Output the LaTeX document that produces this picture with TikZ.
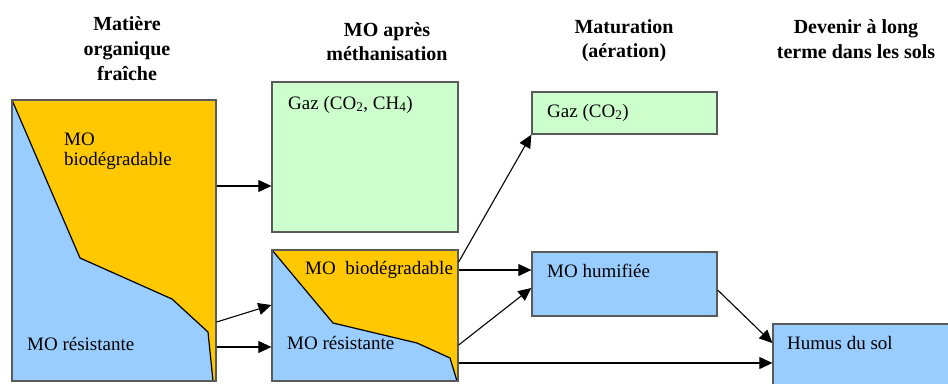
\documentclass[tikz,border=0pt]{standalone}
\usepackage{fontspec}
\setmainfont{Liberation Serif}
\usetikzlibrary{arrows.meta}
\definecolor{yel}{RGB}{255,200,0}
\definecolor{blu}{RGB}{153,204,255}
\definecolor{grn}{RGB}{204,255,204}
\definecolor{edge}{RGB}{90,90,90}
\begin{document}
\begin{tikzpicture}[x=1pt,y=-1pt,
  box/.style={draw=edge, line width=1.3pt, inner sep=0pt},
  arr/.style={line width=1.1pt, -{Triangle[length=13pt,width=12pt]}},
  lab/.style={anchor=base west, inner sep=0pt, font=\fontsize{19}{21}\selectfont},
  head/.style={anchor=base, inner sep=0pt, font=\fontsize{20}{24}\selectfont\bfseries},
  split/.style={line width=1.2pt, line join=round}]
\useasboundingbox (0,0) rectangle (948,383);
% headers
\node[head] (h1a) at (127,30) {Matière};
\node[head] (h1b) at (127,55) {organique};
\node[head] (h1c) at (127,80) {fraîche};
\node[head] (h2a) at (387,36) {MO après};
\node[head] (h2b) at (387,60) {méthanisation};
\node[head] (h3a) at (624,33) {Maturation};
\node[head] (h3b) at (624,57) {(aération)};
\node[head] (h4a) at (856,33) {Devenir à long};
\node[head] (h4b) at (856,58) {terme dans les sols};
% fresh organic matter
\fill[blu] (12,100) rectangle (216,381);
\fill[yel] (12,100) -- (216,100) -- (216,381) -- (213,381) -- (208,332) -- (172,299) -- (80,258) -- cycle;
\draw[split] (12,100) -- (80,258) -- (172,299) -- (208,332) -- (213,381);
\node[box, minimum width=204pt, minimum height=281pt] (fresh) at (114,240.5) {};
\node[lab] (t1) at (64,145) {MO};
\node[lab] (t2) at (64,165) {biodégradable};
\node[lab] (t3) at (27,350) {MO résistante};
% after methanisation
\node[box, fill=grn, minimum width=186pt, minimum height=150pt] (gaz1) at (365,157) {};
\node[lab] (t4) at (288,109) {Gaz (CO\textsubscript{2}, CH\textsubscript{4})};
\fill[blu] (272,250) rectangle (458,381);
\fill[yel] (272,250) -- (458,250) -- (458,381) -- (457,381) -- (450,358) -- (417,343) -- (333,323) -- cycle;
\draw[split] (272,250) -- (333,323) -- (417,343) -- (450,358) -- (457,381);
\node[box, minimum width=186pt, minimum height=131pt] (mid) at (365,315.5) {};
\node[lab] (t5) at (305,274) {MO\ \ biodégradable};
\node[lab] (t6) at (287,349) {MO résistante};
% maturation
\node[box, fill=grn, minimum width=185pt, minimum height=42pt] (gaz2) at (624.5,113) {};
\node[lab] (t7) at (547,117) {Gaz (CO\textsubscript{2})};
\node[box, fill=blu, minimum width=185pt, minimum height=64pt] (hum) at (624.5,284) {};
\node[lab] (t8) at (547,277) {MO humifiée};
% soil
\node[box, fill=blu, minimum width=185pt, minimum height=69pt] (humus) at (865.5,358.5) {};
\node[lab] (t9) at (787,349) {Humus du sol};
% helper levels
\coordinate (y186) at (0,186);
\coordinate (y322) at (0,322);
\coordinate (y305) at (0,305);
\coordinate (y347) at (0,347);
\coordinate (y262) at (0,262);
\coordinate (y270) at (0,270);
\coordinate (y345) at (0,345);
\coordinate (y288) at (0,288);
\coordinate (y363) at (0,363);
\coordinate (y290) at (0,290);
\coordinate (y343) at (0,343);
% connectors
\draw[arr] (fresh.east |- y186) -- (gaz1.west |- y186);
\draw[arr] (fresh.east |- y322) -- (mid.west |- y305);
\draw[arr] (fresh.east |- y347) -- (mid.west |- y347);
\draw[arr] (mid.east |- y262) -- (gaz2.south west);
\draw[arr] (mid.east |- y270) -- (hum.west |- y270);
\draw[arr] (mid.east |- y345) -- (hum.west |- y288);
\draw[arr] (mid.east |- y363) -- (humus.west |- y363);
\draw[arr] (hum.east |- y290) -- (humus.west |- y343);
\end{tikzpicture}
\end{document}
